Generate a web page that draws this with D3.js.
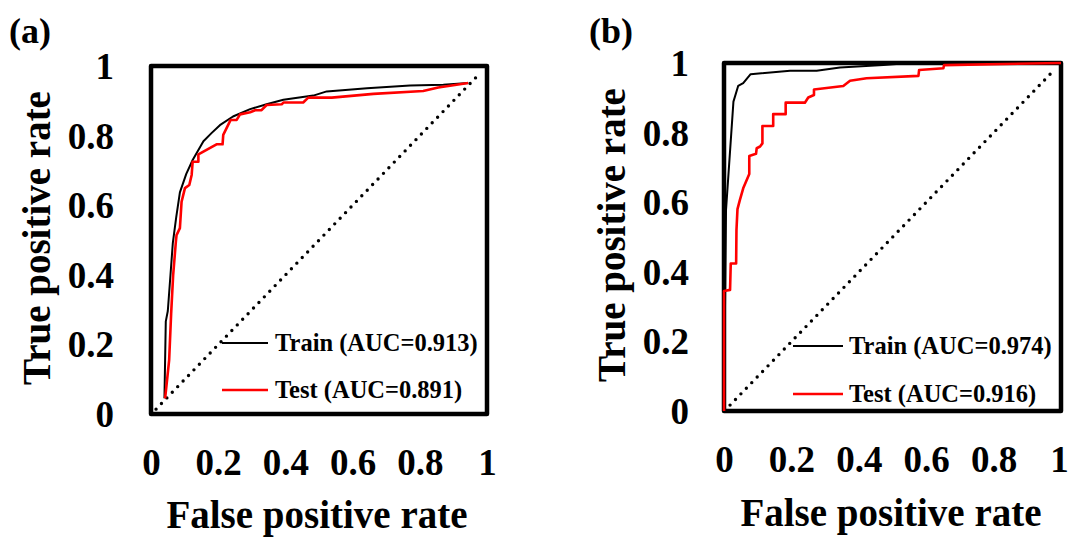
<!DOCTYPE html>
<html>
<head>
<meta charset="utf-8">
<script src="https://cdn.jsdelivr.net/npm/d3@7"></script>
<style>
  body { margin: 0; background: #fff; }
  text { font-family: "Liberation Serif", "Times New Roman", serif; font-weight: bold; fill: #000; }
</style>
</head>
<body>
<script>

const tickValues = [0, 0.2, 0.4, 0.6, 0.8, 1]
const tickLabels = ["0", "0.2", "0.4", "0.6", "0.8", "1"]

// (a) ROC points [fpr, tpr]
const trainA = [[0.040,0.045],[0.044,0.266],[0.050,0.296],[0.058,0.40],[0.065,0.492],[0.075,0.565],[0.086,0.637],
  [0.105,0.69],[0.124,0.73],[0.156,0.784],[0.18,0.807],[0.205,0.830],[0.244,0.855],[0.295,0.876],[0.344,0.890],
  [0.394,0.903],[0.483,0.915],[0.523,0.927],[0.643,0.936],[0.771,0.944],[0.870,0.946],[0.944,0.951]]
const testA = [[0.042,0.045],[0.047,0.09],[0.054,0.155],[0.060,0.29],[0.066,0.40],[0.074,0.495],[0.076,0.514],
  [0.086,0.534],[0.091,0.610],[0.101,0.649],[0.114,0.658],[0.121,0.687],[0.124,0.725],[0.141,0.725],[0.141,0.746],
  [0.195,0.775],[0.213,0.775],[0.215,0.802],[0.237,0.845],[0.255,0.845],[0.265,0.861],[0.295,0.867],[0.310,0.873],
  [0.329,0.873],[0.344,0.888],[0.389,0.890],[0.394,0.895],[0.453,0.895],[0.468,0.909],[0.538,0.909],[0.662,0.920],
  [0.810,0.928],[0.855,0.938],[0.944,0.951]]
const diagA = [[0.015,0.014],[0.979,0.979]]

// (b) ROC points [fpr, tpr]
const trainB = [[0,0],[0.003,0.30],[0.006,0.578],[0.028,0.889],[0.042,0.934],[0.057,0.942],[0.079,0.968],
  [0.196,0.978],[0.275,0.978],[0.344,0.987],[0.473,0.994],[0.55,1.0],[1,1]]
const testB = [[0,0],[0,0.345],[0.018,0.348],[0.020,0.424],[0.036,0.424],[0.037,0.52],[0.040,0.58],[0.047,0.606],
  [0.057,0.640],[0.075,0.681],[0.075,0.733],[0.095,0.739],[0.097,0.755],[0.107,0.760],[0.114,0.769],[0.114,0.819],
  [0.146,0.819],[0.146,0.853],[0.183,0.853],[0.183,0.886],[0.240,0.886],[0.250,0.901],[0.267,0.908],[0.267,0.924],
  [0.354,0.934],[0.374,0.949],[0.423,0.956],[0.577,0.963],[0.579,0.980],[0.651,0.985],[0.653,0.994],[1,1]]
const diagB = [[0.018,0.017],[0.982,0.982]]

const legendA = ["Train (AUC=0.913)", "Test (AUC=0.891)"]
const legendB = ["Train (AUC=0.974)", "Test (AUC=0.916)"]

const svg = d3.select('body')
    .append("svg")
    .attr("width", 1069)
    .attr("height", 537);

function drawPanel(p) {
    const x = d3.scaleLinear().domain([0, 1]).range([p.left, p.right]);
    const y = d3.scaleLinear().domain([0, 1]).range([p.bottom, p.top]);
    const g = svg.append("g");

    // frame
    g.append("rect")
        .attr("x", x(0)).attr("y", y(1))
        .attr("width", x(1) - x(0)).attr("height", y(0) - y(1))
        .attr("fill", "none").attr("stroke", "#000")
        .attr("stroke-width", 4.5).attr("stroke-linejoin", "round");

    const line = d3.line().x(d => x(d[0])).y(d => y(d[1]));

    g.append("path").datum(p.diag)
        .attr("d", line).attr("fill", "none").attr("stroke", "#000")
        .attr("stroke-width", 3.4).attr("stroke-linecap", "round")
        .attr("stroke-dasharray", "0,7.8");

    g.append("path").datum(p.train)
        .attr("d", line).attr("fill", "none").attr("stroke", "#000")
        .attr("stroke-width", 2).attr("stroke-linejoin", "round");

    g.append("path").datum(p.test)
        .attr("d", line).attr("fill", "none").attr("stroke", "#ff0000")
        .attr("stroke-width", 2.6).attr("stroke-linejoin", "round");

    // tick labels
    const xa = g.append("g")
        .attr("transform", `translate(0,${p.xTickBase})`)
        .call(d3.axisBottom(x).tickValues(tickValues).tickSize(0)
            .tickFormat((d, i) => tickLabels[i]));
    xa.select(".domain").remove();
    xa.selectAll("text").attr("y", 0).attr("dy", 0)
        .attr("dx", d => d === 1 ? p.lastTickShift : 0)
        .style("font-size", "37px").attr("fill", "#000");

    const ya = g.append("g")
        .attr("transform", `translate(${p.yTickRight},0)`)
        .call(d3.axisLeft(y).tickValues(tickValues).tickSize(0).tickPadding(0)
            .tickFormat((d, i) => tickLabels[i]));
    ya.select(".domain").remove();
    ya.selectAll("text").attr("x", 0).attr("dy", "0.34em")
        .style("font-size", "37px").attr("fill", "#000");

    // axis titles
    g.append("text")
        .text("False positive rate")
        .attr("x", p.xTitle[0]).attr("y", p.xTitle[1])
        .attr("text-anchor", "middle")
        .style("font-size", "39px");

    g.append("text")
        .text("True positive rate")
        .attr("transform", `translate(${p.yTitle[0]},${p.yTitle[1]}) rotate(-90)`)
        .attr("text-anchor", "middle")
        .style("font-size", "39px");

    // panel letter
    g.append("text")
        .text(p.tag)
        .attr("x", p.tagPos[0]).attr("y", p.tagPos[1])
        .style("font-size", "36px");

    // legend
    const colors = ["#000", "#ff0000"];
    p.legend.forEach((name, i) => {
        const ly = p.legendY[i];
        g.append("line")
            .attr("x1", p.legendX[0]).attr("x2", p.legendX[1])
            .attr("y1", ly - 8).attr("y2", ly - 8)
            .attr("stroke", colors[i]).attr("stroke-width", i ? 2.6 : 2.2);
        g.append("text")
            .text(name)
            .attr("x", p.legendX[2]).attr("y", ly)
            .style("font-size", "24.5px");
    });
}

drawPanel({
    left: 151, right: 487, top: 66, bottom: 414,
    diag: diagA, train: trainA, test: testA,
    xTickBase: 475, yTickRight: 114, lastTickShift: 0,
    xTitle: [317, 528], yTitle: [50, 238],
    tag: "(a)", tagPos: [9, 43],
    legend: legendA, legendY: [351, 398], legendX: [222, 268, 275]
});

drawPanel({
    left: 724, right: 1061, top: 63, bottom: 411,
    diag: diagB, train: trainB, test: testB,
    xTickBase: 472, yTickRight: 689, lastTickShift: -2,
    xTitle: [891, 526], yTitle: [625, 235],
    tag: "(b)", tagPos: [589, 43],
    legend: legendB, legendY: [354, 402], legendX: [793, 843, 849]
});

</script>
</body>
</html>
